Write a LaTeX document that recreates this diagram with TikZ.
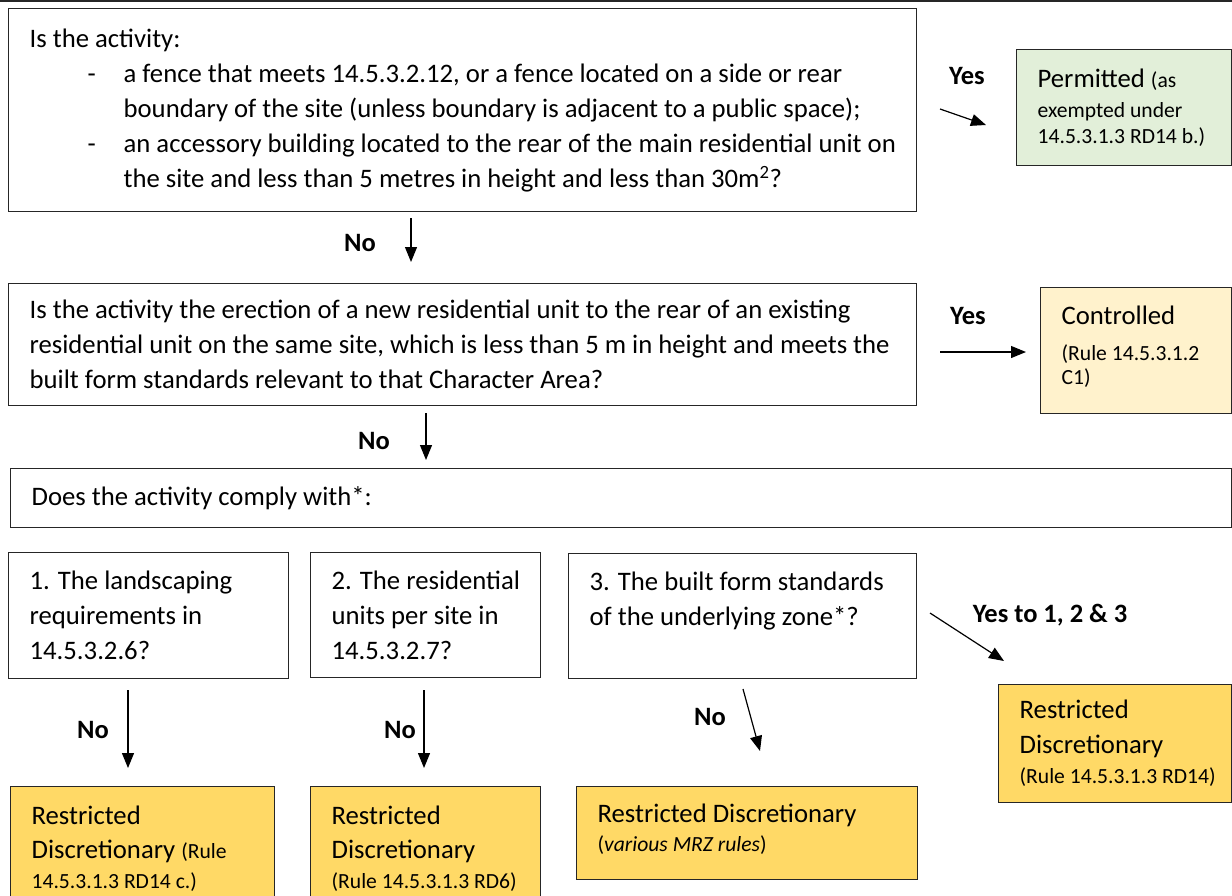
\documentclass[tikz,border=0pt]{standalone}
\usepackage{fontspec}
\setmainfont{Carlito}
\usetikzlibrary{arrows.meta, positioning}

\definecolor{permgreen}{HTML}{E2EFD9}
\definecolor{ctrlyellow}{HTML}{FFF2CC}
\definecolor{rdgold}{HTML}{FFD966}
\newcommand{\bigf}{\fontsize{26.7}{35}\selectfont}
\newcommand{\smallf}{\fontsize{21.6}{27}\selectfont}
\newcommand{\liftby}[1]{\par\vspace*{#1}\hrule height 0pt}

\begin{document}
\begin{tikzpicture}
   [x=1pt, y=-1pt,
  qbox/.style={rectangle, draw=black!85, line width=1.3pt, fill=white,
               anchor=north west, align=flush left, inner xsep=21pt, inner ysep=0pt,
               font=\bigf},
  permbox/.style={qbox, fill=permgreen},
  ctrlbox/.style={qbox, fill=ctrlyellow},
  rdbox/.style={qbox, fill=rdgold},
  ans/.style={font=\fontsize{26.5}{30}\selectfont\bfseries, inner sep=0pt},
  flow/.style={-{Triangle[length=15pt,width=12pt]}, line width=1.2pt}]

  \useasboundingbox (0,0) rectangle (1232,895);
  \draw[line width=1.3pt, black!85] (0,1) -- (1232,1);

  % first question
  \node[qbox, text width=866pt, minimum height=203pt] (q1) at (8,8)
   {Is the activity:\\
    \hspace*{58pt}\makebox[36pt][l]{-}\mbox{a fence that meets 14.5.3.2.12, or a fence located on a side or rear}\\
    \hspace*{94pt}\mbox{boundary of the site (unless boundary is adjacent to a public space);}\\
    \hspace*{58pt}\makebox[36pt][l]{-}\mbox{an accessory building located to the rear of the main residential unit on}\\
    \hspace*{94pt}\mbox{the site and less than 5 metres in height and less than 30m\textsuperscript{2}?}};
  \node[permbox, text width=173pt, minimum height=116pt] (perm) at (1016,49)
   {Permitted {\smallf (as}\\[-5pt]
    {\smallf exempted under}\\[-9pt]
    {\smallf \mbox{14.5.3.1.3 RD14 b.)}}};

  % second question
  \node[qbox, text width=866pt, minimum height=122pt] (q2) at (8,283)
   {\mbox{Is the activity the erection of a new residential unit to the rear of an existing}\\
    \mbox{residential unit on the same site, which is less than 5 m in height and meets the}\\
    built form standards relevant to that Character Area?};
  \node[ctrlbox, text width=149pt, minimum height=126pt] (ctrl) at (1040,287)
   {Controlled\\[1pt]
    {\smallf (Rule 14.5.3.1.2}\\[-11pt]
    {\smallf C1)}\liftby{7pt}};

  % compliance checks
  \node[qbox, text width=1179pt, minimum height=59pt] (q3) at (10,468)
   {Does the activity comply with*:};
  \node[qbox, text width=238pt, minimum height=126pt] (c1) at (8,552)
   {1. The landscaping\\ requirements in\\ 14.5.3.2.6?};
  \node[qbox, text width=188pt, minimum height=125pt] (c2) at (310,552)
   {\mbox{2. The residential}\\ units per site in\\ 14.5.3.2.7?};
  \node[qbox, text width=306pt, minimum height=125pt] (c3) at (568,553)
   {3. The built form standards\\ of the underlying zone*?\\ \mbox{}};

  % outcomes
  \node[rdbox, text width=191pt, minimum height=118pt] (rdy) at (998,684)
   {Restricted\\ Discretionary\\[-5pt] {\smallf \mbox{(Rule 14.5.3.1.3 RD14)}}};
  \node[rdbox, text width=222pt, minimum height=124pt] (rd1) at (10,786)
   {Restricted\\[-1pt] \mbox{Discretionary {\smallf (Rule}}\\[-5pt] {\smallf \mbox{14.5.3.1.3 RD14 c.)}}};
  \node[rdbox, text width=188pt, minimum height=124pt] (rd2) at (310,786)
   {Restricted\\[-1pt] Discretionary\\[-5pt] {\smallf \mbox{(Rule 14.5.3.1.3 RD6)}}};
  \node[rdbox, text width=299pt, minimum height=93pt] (rd3) at (576,786)
   {Restricted Discretionary\\[-6pt] {\smallf (\textit{various MRZ rules})}\liftby{8pt}};

  % arrow ends
  \coordinate (a1s) at (411,218);  \coordinate (a1e) at (411,262);
  \coordinate (a2s) at (426,413);  \coordinate (a2e) at (426,460);
  \coordinate (a3s) at (940,109);  \coordinate (a3e) at (986,125);
  \coordinate (a4s) at (940,352);  \coordinate (a4e) at (1026,352);
  \coordinate (a5s) at (930,613);  \coordinate (a5e) at (1004,661);
  \coordinate (a6s) at (128,690);  \coordinate (a6e) at (128,768);
  \coordinate (a7s) at (424,690);  \coordinate (a7e) at (424,768);
  \coordinate (a8s) at (743,689);  \coordinate (a8e) at (760,751);

  \draw[flow] (a1s) -- (a1e);
  \draw[flow] (a2s) -- (a2e);
  \draw[flow] (a3s) -- (a3e);
  \draw[flow] (a4s) -- (a4e);
  \draw[flow] (a5s) -- (a5e);
  \draw[flow] (a6s) -- (a6e);
  \draw[flow] (a7s) -- (a7e);
  \draw[flow] (a8s) -- (a8e);

  % labels
  \node[ans] (no1) at (360,243) {No};
  \node[ans] (no2) at (374,441) {No};
  \node[ans] (yes1) at (967,76) {Yes};
  \node[ans] (yes2) at (968,316) {Yes};
  \node[ans] (yes3) at (1050,615) {Yes to 1, 2 \& 3};
  \node[ans] (no3) at (93,730) {No};
  \node[ans] (no4) at (400,730) {No};
  \node[ans] (no5) at (710,717) {No};
\end{tikzpicture}
\end{document}
